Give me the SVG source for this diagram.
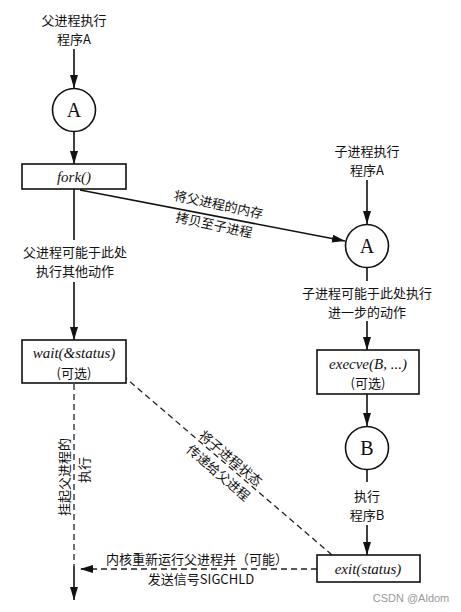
<svg xmlns="http://www.w3.org/2000/svg" width="461" height="612" viewBox="0 0 461 612">
<defs>
<marker id="ah" markerUnits="userSpaceOnUse" markerWidth="14" markerHeight="10" refX="13" refY="4" orient="auto">
<path d="M0,0 L13,4 L0,8 z" fill="#111"/>
</marker>
<style>
.ln{stroke:#111;stroke-width:1.6;fill:none}
.ds{stroke:#222;stroke-width:1.3;fill:none;stroke-dasharray:6 4}
.bx{fill:#fff;stroke:#111;stroke-width:1.6}
.zh{font-family:"Noto Sans CJK SC","Noto Sans CJK JP",sans-serif;font-size:13px;fill:#111;text-anchor:middle}
.it{font-family:"Liberation Serif",serif;font-style:italic;font-size:15px;fill:#111;text-anchor:middle}
.lt{font-family:"Liberation Serif",serif;font-size:20px;fill:#111;text-anchor:middle}
</style>
</defs>
<rect width="461" height="612" fill="#fff"/>
<g id="connectors">
<line class="ln" x1="74" y1="49" x2="74" y2="88" marker-end="url(#ah)"/>
<line class="ln" x1="74" y1="132" x2="74" y2="164" marker-end="url(#ah)"/>
<line class="ln" x1="74" y1="189" x2="74" y2="240"/>
<line class="ln" x1="74" y1="282" x2="74" y2="340" marker-end="url(#ah)"/>
<line class="ln" x1="80" y1="190" x2="345" y2="241" marker-end="url(#ah)"/>
<line class="ln" x1="367" y1="180" x2="367" y2="224" marker-end="url(#ah)"/>
<line class="ln" x1="367" y1="268" x2="367" y2="281"/>
<line class="ln" x1="367" y1="321" x2="367" y2="350" marker-end="url(#ah)"/>
<line class="ln" x1="367" y1="394" x2="367" y2="426" marker-end="url(#ah)"/>
<line class="ln" x1="367" y1="470" x2="367" y2="482"/>
<line class="ln" x1="367" y1="525" x2="367" y2="555" marker-end="url(#ah)"/>
<line class="ds" x1="74" y1="384" x2="74" y2="566"/>
<line class="ln" x1="74" y1="566" x2="74" y2="600" marker-end="url(#ah)"/>
<line class="ds" x1="332" y1="555" x2="114" y2="368" marker-end="url(#ah)"/>
<line class="ds" x1="317" y1="569" x2="80" y2="569" marker-end="url(#ah)"/>
</g>
<g id="label-top-left"><text class="zh" x="74" y="25">父进程执行</text><text class="zh" x="74" y="44">程序A</text></g>
<g id="circle-A-left"><circle class="bx" cx="74" cy="110" r="21.5"/><text class="lt" x="74" y="117">A</text></g>
<g id="fork"><rect class="bx" x="22" y="164" width="104" height="25"/><text class="it" x="74" y="182">fork()</text></g>
<g id="label-parent-other"><text class="zh" x="75" y="257">父进程可能于此处</text><text class="zh" x="75" y="276">执行其他动作</text></g>
<g id="wait"><rect class="bx" x="22" y="340" width="104" height="43"/><text class="it" x="74" y="358">wait(&amp;status)</text><text class="zh" x="74" y="378">(可选)</text></g>
<g id="label-copy" transform="translate(216,216) rotate(12)"><text class="zh" x="0" y="-7">将父进程的内存</text><text class="zh" x="0" y="14">拷贝至子进程</text></g>
<g id="label-top-right"><text class="zh" x="367" y="156">子进程执行</text><text class="zh" x="367" y="175">程序A</text></g>
<g id="circle-A-right"><circle class="bx" cx="367" cy="246" r="21.5"/><text class="lt" x="367" y="253">A</text></g>
<g id="label-child-further"><text class="zh" x="367" y="298">子进程可能于此处执行</text><text class="zh" x="367" y="317">进一步的动作</text></g>
<g id="execve"><rect class="bx" x="317" y="350" width="102" height="44"/><text class="it" x="368" y="369">execve(B, ...)</text><text class="zh" x="368" y="388">(可选)</text></g>
<g id="circle-B"><circle class="bx" cx="367" cy="448" r="21.5"/><text class="lt" x="367" y="455">B</text></g>
<g id="label-exec-B"><text class="zh" x="367" y="501">执行</text><text class="zh" x="367" y="520">程序B</text></g>
<g id="exit"><rect class="bx" x="317" y="555" width="103" height="27"/><text class="it" x="368" y="574">exit(status)</text></g>
<g id="label-suspend" transform="translate(75,477) rotate(-90)"><text class="zh" x="0" y="-6">挂起父进程的</text><text class="zh" x="7" y="14">执行</text></g>
<g id="label-status" transform="translate(225,465) rotate(40.5)"><text class="zh" x="0" y="-4">将子进程状态</text><text class="zh" x="0" y="15">传递给父进程</text></g>
<g id="label-sigchld"><text class="zh" x="197" y="564">内核重新运行父进程并（可能）</text><text class="zh" x="201" y="584">发送信号SIGCHLD</text></g>
<text x="411" y="602" font-family="'Liberation Sans',sans-serif" font-size="11" fill="#999" text-anchor="middle">CSDN @Aldom</text>
</svg>
